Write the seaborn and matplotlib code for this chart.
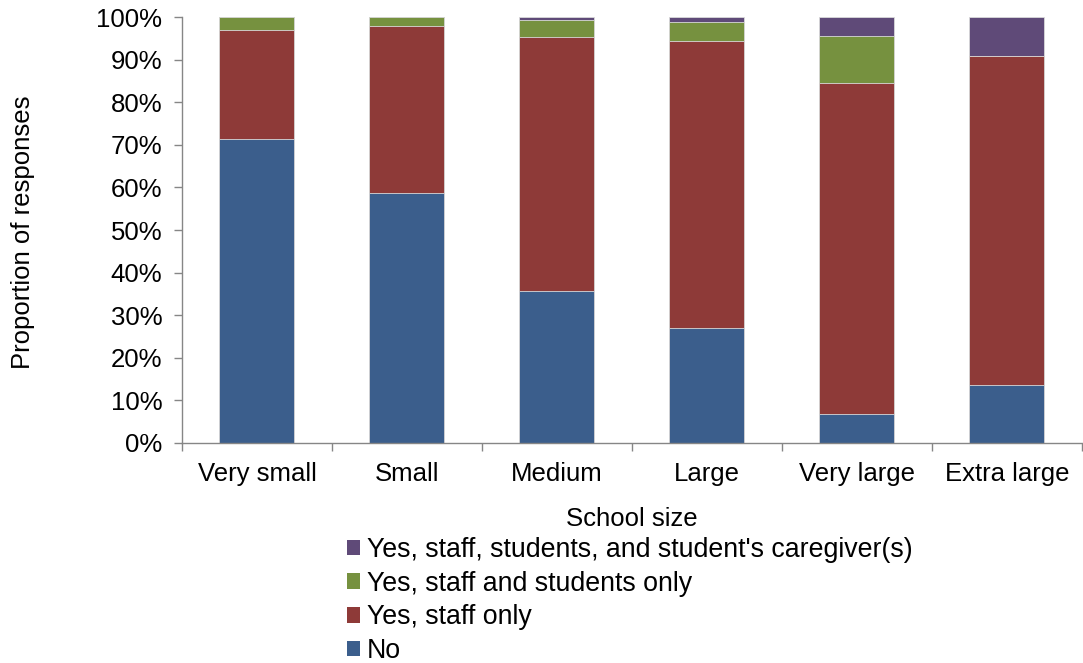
import numpy as np
import pandas as pd
import matplotlib
matplotlib.use("Agg")
import matplotlib.pyplot as plt
import seaborn as sns
from matplotlib.patches import Patch
from matplotlib.ticker import PercentFormatter

categories = ["Very small", "Small", "Medium", "Large", "Very large", "Extra large"]
no_vals = [71.3, 58.7, 35.7, 27.1, 6.9, 13.7]
staff_only = [25.7, 39.3, 59.7, 67.3, 77.6, 77.1]
staff_students = [3.0, 2.0, 4.0, 4.4, 11.0, 0.0]
all_groups = [0.0, 0.0, 0.6, 1.2, 4.5, 9.2]

series_names = ["No", "Yes, staff only", "Yes, staff and students only",
                "Yes, staff, students, and student's caregiver(s)"]
series_vals = [no_vals, staff_only, staff_students, all_groups]
colors = ["#3B5E8C", "#8E3A38", "#76913F", "#5F4A78"]

sns.set_theme(style="white")
plt.rcParams['font.family'] = ['Liberation Sans', 'DejaVu Sans']
plt.rcParams['text.color'] = 'black'
plt.rcParams['axes.labelcolor'] = 'black'
plt.rcParams['xtick.color'] = 'black'
plt.rcParams['ytick.color'] = 'black'

fig = plt.figure(figsize=(10.83, 6.63), dpi=100)
ax = fig.add_axes([0.168, 0.332, 0.831, 0.642])

cum = np.cumsum(np.array(series_vals), axis=0)
for i in range(len(series_names) - 1, -1, -1):
    df = pd.DataFrame({"cat": categories, "val": cum[i]})
    sns.barplot(data=df, x="cat", y="val", order=categories, color=colors[i],
                width=0.5, ax=ax, saturation=1, edgecolor="#D9D9D9",
                linewidth=0.6)

ax.set_ylim(0, 100)
ax.set_xlim(-0.5, 5.5)
ax.set_yticks(np.arange(0, 101, 10))
ax.yaxis.set_major_formatter(PercentFormatter(decimals=0))
ax.set_xticks(range(len(categories)))
ax.set_xticklabels(categories)

for s in ["top", "right"]:
    ax.spines[s].set_visible(False)
for s in ["left", "bottom"]:
    ax.spines[s].set_color("#868686")
    ax.spines[s].set_linewidth(1.0)

ax.tick_params(axis="y", which="major", direction="out", length=6, color="#868686",
               width=1, labelsize=18.5, pad=8, left=True, labelcolor="black")
ax.tick_params(axis="x", which="major", length=0, labelsize=18.5, pad=14, bottom=True,
               labelcolor="black")
ax.set_xticks(np.arange(-0.5, 6.0, 1.0), minor=True)
ax.tick_params(axis="x", which="minor", direction="out", length=6, color="#868686",
               width=1, bottom=True)

ax.set_xlabel("School size", fontsize=18.5, color="black")
ax.set_ylabel("Proportion of responses", fontsize=18.5, color="black")
ax.xaxis.set_label_coords(0.5, -0.15)
ax.yaxis.set_label_coords(-0.163, 0.495)

handles = [Patch(facecolor=colors[i], edgecolor="none") for i in range(3, -1, -1)]
labels = [series_names[i] for i in range(3, -1, -1)]
fig.legend(handles, labels, loc="lower left", bbox_to_anchor=(0.308, -0.022),
           frameon=False, fontsize=19.3, handlelength=0.5, handleheight=0.5,
           handletextpad=0.25, labelspacing=0.29, borderaxespad=0.1)

fig.savefig("out.png", dpi=100)
